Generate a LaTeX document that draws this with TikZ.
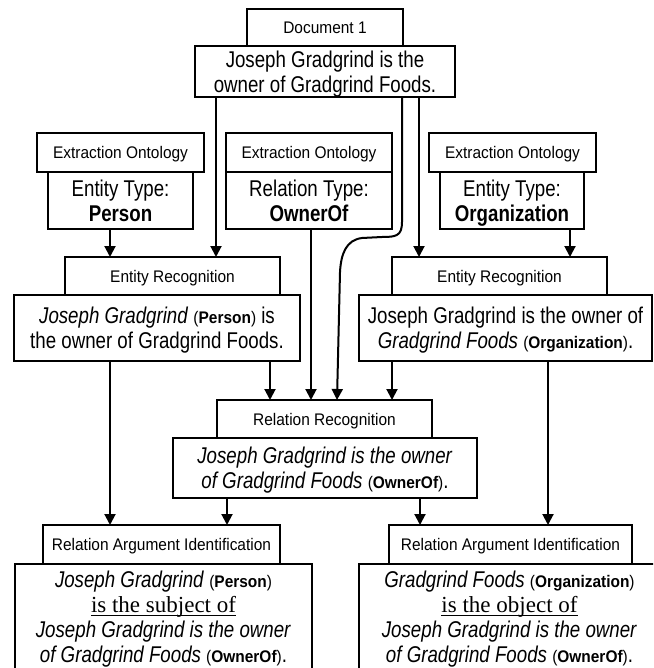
\documentclass[tikz,border=0pt]{standalone}
\usepackage{fontspec}
\setmainfont{Liberation Sans}
\usetikzlibrary{arrows.meta}

\newfontfamily\narrowsans[FakeStretch=0.82]{Liberation Sans}
\newfontfamily\labelsans[FakeStretch=0.92]{Liberation Sans}
\newfontfamily\ulserif{Liberation Serif}
\newcommand{\txtfont}{\narrowsans\fontsize{22.8}{25}\selectfont}
\newcommand{\lblfont}{\labelsans\fontsize{16.8}{20}\selectfont}
\newcommand{\tagbf}[1]{{\lblfont(\textbf{#1})}}
\newsavebox{\relbox}
\newcommand{\relline}[1]{{\ulserif\fontsize{23}{25}\selectfont
  \sbox{\relbox}{#1}\rlap{\rule[-3.5pt]{\wd\relbox}{1pt}}\usebox{\relbox}}}

\tikzset{
  lbl/.style={draw, line width=1.4pt, inner sep=0pt, outer sep=0pt, fill=white,
    font=\lblfont, text depth=0pt, align=center},
  txt/.style={draw, line width=1.4pt, inner sep=0pt, outer sep=0pt, fill=white,
    font=\txtfont, text depth=0pt, align=center},
  arr/.style={line width=2pt, -{Triangle[width=11pt,length=11pt]}},
}

\begin{document}
\begin{tikzpicture}[x=1pt, y=-1pt]
        \useasboundingbox (0,0) rectangle (653,668);
        \clip (0,0) rectangle (653,668);

        % --- Documento di partenza ---
        \node[lbl, minimum width=156, minimum height=37] (doclab) at (325,27.5) {Document 1};
        \node[txt, minimum width=260, minimum height=51] (doctxt) at (325,71.5)
            {Joseph Gradgrind is the\\owner of Gradgrind Foods.};

        % --- Ontologie di estrazione ---
        \node[lbl, minimum width=167, minimum height=39] (eo1) at (120.5,152.5) {Extraction Ontology};
        \node[txt, minimum width=145, minimum height=57] (et1) at (120.5,200.5) {Entity Type:\\\textbf{Person}};

        \node[lbl, minimum width=166, minimum height=39] (eo2) at (309,152.5) {Extraction Ontology};
        \node[txt, minimum width=166, minimum height=57] (rt) at (309,200.5) {Relation Type:\\\textbf{OwnerOf}};

        \node[lbl, minimum width=167, minimum height=39] (eo3) at (512.5,152.5) {Extraction Ontology};
        \node[txt, minimum width=144, minimum height=57] (et3) at (512,200.5) {Entity Type:\\\textbf{Organization}};

        % --- Riconoscimento delle entita' ---
        \node[lbl, minimum width=215, minimum height=38] (er1lab) at (172.5,276) {Entity Recognition};
        \node[txt, minimum width=286, minimum height=66] (er1txt) at (157,328)
            {\textit{Joseph Gradgrind} \tagbf{Person} is\\the owner of Gradgrind Foods.};

        \node[lbl, minimum width=215, minimum height=38] (er2lab) at (499.5,276) {Entity Recognition};
        \node[txt, minimum width=293, minimum height=66] (er2txt) at (505.5,328)
            {Joseph Gradgrind is the owner of\\\textit{Gradgrind Foods} \tagbf{Organization}.};

        % --- Riconoscimento della relazione ---
        \node[lbl, minimum width=215, minimum height=38] (rrlab) at (324.5,419) {Relation Recognition};
        \node[txt, minimum width=304, minimum height=60] (rrtxt) at (325,468)
            {\textit{Joseph Gradgrind is the owner}\\\textit{of Gradgrind Foods} \tagbf{OwnerOf}.};

        % --- Identificazione degli argomenti ---
        \node[lbl, minimum width=237, minimum height=39] (rai1lab) at (161.5,544.5) {Relation Argument Identification};
        \node[txt, minimum width=297, minimum height=106] (rai1txt) at (163.5,617)
            {\textit{Joseph Gradgrind} \tagbf{Person}\\\relline{is the subject of}\\
             \textit{Joseph Gradgrind is the owner}\\\textit{of Gradgrind Foods} \tagbf{OwnerOf}.};

        \node[lbl, minimum width=243, minimum height=39] (rai2lab) at (510.5,544.5) {Relation Argument Identification};
        \node[txt, minimum width=301, minimum height=106] (rai2txt) at (509.5,617)
            {\textit{Gradgrind Foods} \tagbf{Organization}\\\relline{is the object of}\\
             \textit{Joseph Gradgrind is the owner}\\\textit{of Gradgrind Foods} \tagbf{OwnerOf}.};

        % --- Frecce dal documento ---
        \draw[arr] (216,0 |- doctxt.south) -- (216,0 |- er1lab.north);
        \draw[arr] (419,0 |- doctxt.south) -- (419,0 |- er2lab.north);
        % la freccia curva gira attorno alla scatola della relazione
        \draw[arr] (402,0 |- doctxt.south) -- (402,222)
            .. controls (402,236) and (396,237) .. (382,237) -- (362,238)
            .. controls (346,240) and (341,254) .. (340,272) -- (337,0 |- rrlab.north);

        % --- Frecce dalle ontologie ---
        \draw[arr] (110,0 |- et1.south) -- (110,0 |- er1lab.north);
        \draw[arr] (311,0 |- rt.south) -- (311,0 |- rrlab.north);
        \draw[arr] (570,0 |- et3.south) -- (570,0 |- er2lab.north);

        % --- Frecce verso il riconoscimento della relazione ---
        \draw[arr] (270,0 |- er1txt.south) -- (270,0 |- rrlab.north);
        \draw[arr] (392,0 |- er2txt.south) -- (392,0 |- rrlab.north);

        % --- Frecce verso l'identificazione degli argomenti ---
        \draw[arr] (110,0 |- er1txt.south) -- (110,0 |- rai1lab.north);
        \draw[arr] (227,0 |- rrtxt.south) -- (227,0 |- rai1lab.north);
        \draw[arr] (420,0 |- rrtxt.south) -- (420,0 |- rai2lab.north);
        \draw[arr] (548,0 |- er2txt.south) -- (548,0 |- rai2lab.north);

    \end{tikzpicture}
\end{document}
